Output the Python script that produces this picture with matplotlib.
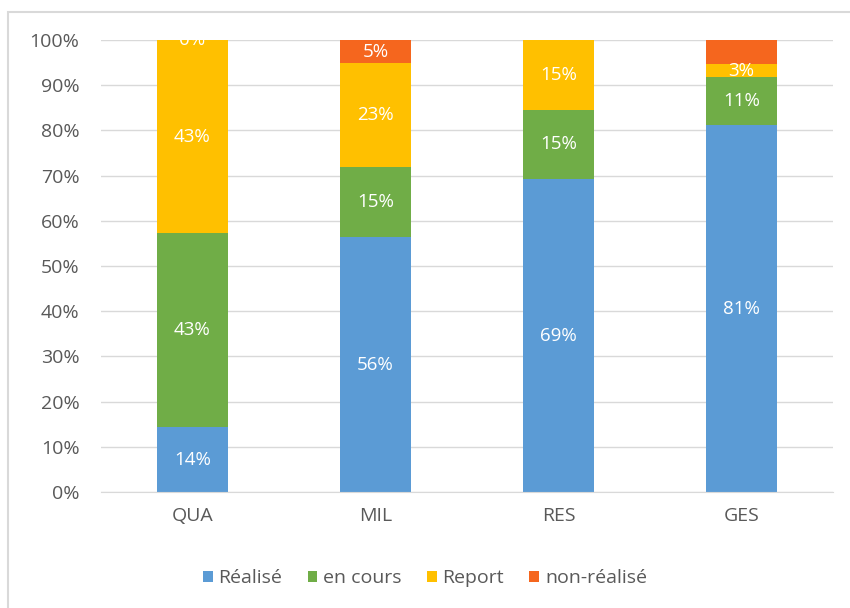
import numpy as np
import matplotlib.pyplot as plt
from matplotlib.patches import Rectangle

plt.rcParams['font.family'] = ['Open Sans', 'DejaVu Sans']

categories = ['QUA', 'MIL', 'RES', 'GES']
series = ['Réalisé', 'en cours', 'Report', 'non-réalisé']
realise = [14.3, 56.4, 69.2, 81.1]
en_cours = [42.9, 15.4, 15.4, 10.8]
report = [42.9, 23.1, 15.4, 2.7]
non_realise = [0.0, 5.1, 0.0, 5.4]
# labels for the non-réalisé segment (Excel shows "0%" on QUA, none on GES)
nr_labels = ['0%', '5%', '', '']
colors = ['#5B9BD5', '#70AD47', '#FFC000', '#F5661E']
text_col = '#595959'
grid_col = '#D9D9D9'

fig = plt.figure(figsize=(8.5, 6.08), dpi=100)
ax = fig.add_axes([101 / 850, 116 / 608, 732 / 850, 452 / 608])

x = np.arange(len(categories))
bottom = np.zeros(len(categories))
for k, (name, vals) in enumerate(zip(series, [realise, en_cours, report, non_realise])):
    vals = np.array(vals)
    ax.bar(x, vals, 0.39, bottom=bottom, color=colors[k], label=name, zorder=2)
    for i, v in enumerate(vals):
        lab = nr_labels[i] if k == 3 else f'{v:.0f}%'
        if lab:
            ax.text(x[i], bottom[i] + v / 2, lab, ha='center', va='center',
                    color='white', fontsize=13.5, zorder=3, clip_on=True)
    bottom += vals

ax.set_xlim(-0.5, 3.5)
ax.set_ylim(0, 100)
ax.set_yticks(np.arange(0, 101, 10))
ax.set_yticklabels([f'{t}%' for t in range(0, 101, 10)])
ax.set_xticks(x)
ax.set_xticklabels(categories)
ax.tick_params(length=0, colors=text_col, labelsize=14)
ax.tick_params(axis='y', pad=15.5)
ax.tick_params(axis='x', pad=11)
ax.grid(axis='y', color=grid_col, linewidth=1, zorder=0)
for s in ['top', 'right', 'left']:
    ax.spines[s].set_visible(False)
ax.spines['bottom'].set_color(grid_col)

leg = fig.legend(loc='center', bbox_to_anchor=(0.5, 1 - 578 / 608), ncol=4, frameon=False,
                 fontsize=14, handlelength=0.5, handleheight=0.5, handletextpad=0.3,
                 columnspacing=1.3)
for t in leg.get_texts():
    t.set_color(text_col)

fig.patches.append(Rectangle((8 / 850, -0.1), 1.2, 1.1 - 12 / 608, transform=fig.transFigure,
                             fill=False, edgecolor='#D9D9D9', linewidth=1.5))

fig.savefig('out.png', dpi=100)
